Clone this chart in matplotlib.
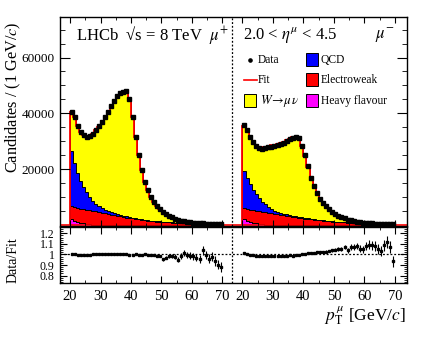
import numpy as np
import matplotlib
matplotlib.use("Agg")
import matplotlib.pyplot as plt
from matplotlib.patches import Rectangle
from matplotlib.lines import Line2D
from matplotlib.ticker import FixedLocator

plt.rcParams['font.family'] = ['Liberation Serif', 'DejaVu Serif']
plt.rcParams['mathtext.fontset'] = 'stix'

# bin edges (GeV/c), same for both charges
edges = np.arange(20, 71)
shift = 56.6   # mu- half is drawn to the right of mu+

# mu+ candidates per 1 GeV bin, 20..69
data_plus = [40600, 38800, 35400, 33300, 32100, 31700, 31900, 32700, 34000, 35400,
             36900, 38700, 40500, 42500, 44400, 46200, 47200, 47800, 47900, 45000,
             38700, 31500, 25100, 19600, 15600, 12500, 10100, 8400, 6900, 5700,
             4800, 4000, 3300, 2800, 2300, 1900, 1600, 1350, 1150, 1000,
             900, 800, 710, 630, 560, 500, 450, 410, 370, 340]
ratio_plus = [1.003, 1.000, 0.996, 0.994, 0.995, 0.997, 0.999, 1.000, 1.002, 1.003,
              1.004, 1.003, 1.005, 1.004, 1.003, 1.004, 1.002, 1.000, 1.001, 0.999,
              0.999, 1.001, 0.998, 0.997, 1.000, 0.996, 0.993, 0.994, 0.990, 0.985,
              0.955, 0.970, 0.985, 0.990, 0.980, 0.950, 0.985, 1.015, 0.995, 0.990,
              0.985, 0.970, 0.960, 1.040, 0.995, 0.960, 0.980, 0.935, 0.905, 0.885]
qcd_plus = [19800, 15950, 12600, 9850, 7800, 6200, 4600, 3600, 2600, 2000,
            1500, 1200, 950, 800, 750, 700, 600, 500, 400, 350,
            300, 270, 240, 210, 190, 170, 150, 130, 115, 100,
            90, 80, 70, 60, 55, 50, 45, 40, 35, 30,
            28, 25, 22, 20, 18, 16, 14, 12, 10, 9]
ew_plus = [4600, 4850, 5000, 5050, 5050, 5050, 5000, 4900, 4770, 4620,
           4450, 4270, 4030, 3790, 3545, 3300, 3100, 2900, 2700, 2550,
           2400, 2200, 2050, 1900, 1750, 1600, 1500, 1400, 1300, 1250,
           1200, 1100, 1000, 950, 870, 800, 750, 700, 650, 620,
           600, 560, 520, 490, 460, 430, 400, 370, 340, 300]
hf_plus = [2100, 1600, 1200, 900, 650, 450, 300, 200, 130, 80,
           50, 30, 20, 10, 5, 0, 0, 0, 0, 0,
           0, 0, 0, 0, 0, 0, 0, 0, 0, 0,
           0, 0, 0, 0, 0, 0, 0, 0, 0, 0,
           0, 0, 0, 0, 0, 0, 0, 0, 0, 0]

# mu- candidates
data_minus = [35800, 33900, 31500, 29900, 28400, 27700, 27400, 27500, 27800, 28100,
              28400, 28700, 29100, 29500, 30100, 30700, 31300, 31400, 31100, 28300,
              25100, 21200, 17000, 13900, 11400, 9400, 8000, 6800, 5700, 4700,
              3900, 3300, 2800, 2400, 2000, 1700, 1450, 1250, 1080, 930,
              830, 730, 640, 570, 510, 470, 430, 400, 370, 340]
ratio_minus = [1.010, 1.006, 0.998, 0.992, 0.987, 0.985, 0.983, 0.984, 0.986, 0.985,
               0.987, 0.988, 0.989, 0.990, 0.990, 0.991, 0.990, 0.992, 0.995, 1.000,
               1.008, 1.012, 1.015, 1.018, 1.020, 1.022, 1.025, 1.028, 1.033, 1.040,
               1.045, 1.050, 1.055, 1.070, 1.040, 1.072, 1.068, 1.078, 1.055, 1.048,
               1.080, 1.092, 1.088, 1.080, 1.055, 1.030, 1.085, 1.120, 1.070, 0.935]
qcd_minus = [13400, 11200, 9050, 7200, 6000, 4700, 3700, 2950, 2150, 1600,
             1200, 1000, 850, 700, 600, 500, 430, 380, 330, 290,
             250, 220, 200, 180, 160, 140, 125, 110, 100, 90,
             80, 70, 62, 55, 50, 45, 40, 35, 30, 27,
             24, 21, 19, 17, 15, 13, 12, 11, 10, 9]
ew_minus = [3900, 4180, 4360, 4440, 4470, 4450, 4420, 4340, 4230, 4100,
            3950, 3790, 3620, 3450, 3275, 3100, 2940, 2780, 2620, 2460,
            2300, 2180, 2060, 1940, 1820, 1700, 1600, 1500, 1400, 1300,
            1200, 1130, 1060, 990, 920, 850, 790, 730, 670, 610,
            560, 520, 485, 450, 420, 390, 360, 330, 305, 280]
hf_minus = [2100, 1600, 1200, 900, 650, 450, 300, 200, 130, 80,
            50, 30, 20, 10, 5, 0, 0, 0, 0, 0,
            0, 0, 0, 0, 0, 0, 0, 0, 0, 0,
            0, 0, 0, 0, 0, 0, 0, 0, 0, 0,
            0, 0, 0, 0, 0, 0, 0, 0, 0, 0]

tick_vals = [20, 30, 40, 50, 60, 70]

W, H = 427, 338
fig = plt.figure(figsize=(W / 100, H / 100), dpi=100)
ax = fig.add_axes([60 / W, 1 - 226 / H, 347 / W, 209 / H])
rax = fig.add_axes([60 / W, 1 - 283 / H, 347 / W, 56 / H])


def draw_half(e, data, ratio, qcd, ew, hf):
    data = np.array(data, float)
    ratio = np.array(ratio, float)
    fit = data / ratio
    c1 = np.array(hf, float)
    c2 = c1 + np.array(ew, float)
    c3 = c2 + np.array(qcd, float)
    ax.stairs(c1, e, baseline=0, fill=True, facecolor='#ff00ff', edgecolor='black', lw=0.7)
    ax.stairs(c2, e, baseline=c1, fill=True, facecolor='#ff0000', edgecolor='black', lw=0.7)
    ax.stairs(c3, e, baseline=c2, fill=True, facecolor='#0000ff', edgecolor='black', lw=0.7)
    ax.stairs(fit, e, baseline=c3, fill=True, facecolor='#ffff00', edgecolor='black', lw=0.7)
    ax.stairs(fit, e, baseline=0, color='#ff0000', lw=1.3)
    centers = (e[:-1] + e[1:]) / 2
    ax.errorbar(centers, data, yerr=np.sqrt(data), fmt='s', ms=2.6, color='black',
                elinewidth=0.8, capsize=0, zorder=5)
    rax.errorbar(centers, ratio, yerr=ratio / np.sqrt(data), fmt='s', ms=2.0,
                 color='black', elinewidth=0.8, capsize=0, zorder=5)


draw_half(edges, data_plus, ratio_plus, qcd_plus, ew_plus, hf_plus)
draw_half(edges + shift, data_minus, ratio_minus, qcd_minus, ew_minus, hf_minus)

xlo, xhi = 16.7, 130.6
sep = 73.3
ax.axhline(0, color='#ff0000', lw=1.2, zorder=1)
for a in (ax, rax):
    a.set_xlim(xlo, xhi)
    a.axvline(sep, color='black', ls=(0, (1.5, 1.5)), lw=0.9)
    major = tick_vals + [v + shift for v in tick_vals]
    minor = [v + 5 for v in tick_vals[:-1]] + [v + 5 + shift for v in tick_vals[:-1]]
    a.xaxis.set_major_locator(FixedLocator(major))
    a.xaxis.set_minor_locator(FixedLocator(minor))
    for s in a.spines.values():
        s.set_linewidth(1.0)

ax.set_ylim(-300, 74500)
ax.set_yticks([20000, 40000, 60000])
ax.yaxis.set_minor_locator(FixedLocator(np.arange(5000, 74000, 5000)))
ax.tick_params(axis='y', which='major', direction='in', length=7, right=True, labelsize=9.5, pad=4)
ax.tick_params(axis='y', which='minor', direction='in', length=3.5, right=True)
ax.tick_params(axis='x', which='major', direction='in', length=4, top=True, labelbottom=False)
ax.tick_params(axis='x', which='minor', direction='in', length=2.5, top=True)

rax.axhline(1.0, color='black', ls=(0, (1.5, 1.5)), lw=0.9)
rax.set_ylim(0.73, 1.26)
rax.set_yticks([0.8, 0.9, 1.0, 1.1, 1.2])
rax.set_yticklabels(['0.8', '0.9', '1', '1.1', '1.2'])
rax.yaxis.set_minor_locator(FixedLocator(np.arange(0.74, 1.26, 0.02)))
rax.set_xticklabels([str(v) for v in tick_vals] * 2)
rax.tick_params(axis='y', which='major', direction='in', length=5, right=True, labelsize=8.5, pad=4)
rax.tick_params(axis='y', which='minor', direction='in', length=2.5, right=True)
rax.tick_params(axis='x', which='major', direction='in', length=5, top=True, labelsize=10.5, pad=5)
rax.tick_params(axis='x', which='minor', direction='in', length=2.5, top=True)

# axis titles
fig.text(13 / W, 1 - 97 / H, 'Candidates / (1 GeV/$c$)', rotation=90, ha='center', va='center',
         fontsize=11.7)
fig.text(13 / W, 1 - 260 / H, 'Data/Fit', rotation=90, ha='center', va='center', fontsize=10)
fig.text(406 / W, 1 - 320 / H, r'$p_{\mathrm{T}}^{\,\mu}$ [GeV/$c$]', ha='right', va='baseline',
         fontsize=12.5)

# labels in the plot
fig.text(76 / W, 1 - 40 / H, 'LHCb  \u221as = 8 TeV  $\\mu^{+}$', va='baseline', fontsize=12)
fig.text(243 / W, 1 - 39 / H, r'2.0 < $\eta^{\mu}$ < 4.5', va='baseline', fontsize=12)
fig.text(375 / W, 1 - 39 / H, r'$\mu^{-}$', va='baseline', fontsize=12)

# legend, drawn by hand
leg_fs = 8.3
fig.add_artist(Line2D([250 / W], [1 - 60 / H], marker='o', ms=2.3, color='black',
                      transform=fig.transFigure))
fig.text(258 / W, 1 - 60 / H, 'Data', va='center', fontsize=leg_fs)
fig.add_artist(Line2D([244 / W, 257 / W], [1 - 80 / H, 1 - 80 / H], color='#ff0000', lw=1.2,
                      transform=fig.transFigure))
fig.text(258 / W, 1 - 80 / H, 'Fit', va='center', fontsize=leg_fs)

swatches = [(244, 94, '#ffff00', r'$W\!\rightarrow\!\mu\,\nu$', 260),
            (306, 53, '#0000ff', 'QCD', 321),
            (306, 73, '#ff0000', 'Electroweak', 321),
            (306, 94, '#ff00ff', 'Heavy flavour', 321)]
for px, py, col, lab, tx in swatches:
    fig.add_artist(Rectangle((px / W, 1 - (py + 13) / H), 12 / W, 13 / H, facecolor=col,
                             edgecolor='black', lw=0.7, transform=fig.transFigure))
    fig.text(tx / W, 1 - (py + 7) / H, lab, va='center', fontsize=leg_fs + (1 if tx == 260 else 0))

fig.savefig('out.png', dpi=100)
